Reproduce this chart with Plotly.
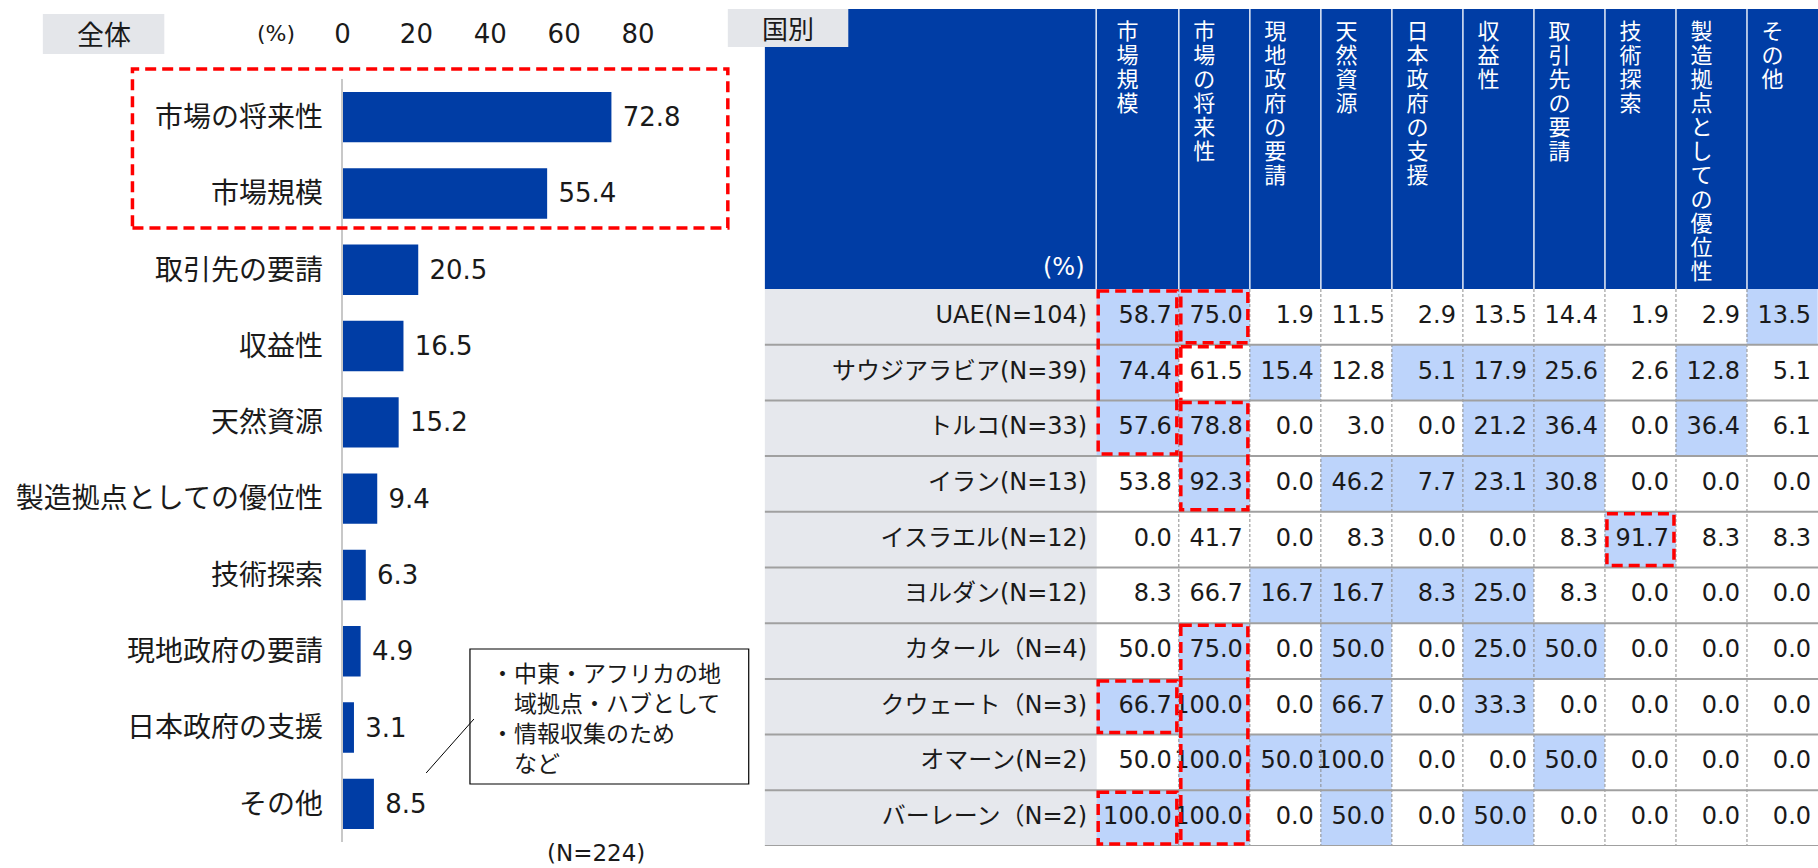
import plotly.graph_objects as go

# ---------------- data ----------------
overall_items = ["市場の将来性", "市場規模", "取引先の要請", "収益性", "天然資源",
                 "製造拠点としての優位性", "技術探索", "現地政府の要請", "日本政府の支援", "その他"]
overall_values = [72.8, 55.4, 20.5, 16.5, 15.2, 9.4, 6.3, 4.9, 3.1, 8.5]
overall_ticks = [0, 20, 40, 60, 80]
overall_n_label = "(N=224)"
note_lines = ["・中東・アフリカの地", "　域拠点・ハブとして", "・情報収集のため", "　など"]

table_items = ["市場規模", "市場の将来性", "現地政府の要請", "天然資源", "日本政府の支援",
               "収益性", "取引先の要請", "技術探索", "製造拠点としての優位性", "その他"]
countries = ["UAE(N=104)", "サウジアラビア(N=39)", "トルコ(N=33)", "イラン(N=13)",
             "イスラエル(N=12)", "ヨルダン(N=12)", "カタール（N=4)", "クウェート（N=3)",
             "オマーン(N=2)", "バーレーン（N=2)"]
uae = [58.7, 75.0, 1.9, 11.5, 2.9, 13.5, 14.4, 1.9, 2.9, 13.5]
saudi = [74.4, 61.5, 15.4, 12.8, 5.1, 17.9, 25.6, 2.6, 12.8, 5.1]
turkey = [57.6, 78.8, 0.0, 3.0, 0.0, 21.2, 36.4, 0.0, 36.4, 6.1]
iran = [53.8, 92.3, 0.0, 46.2, 7.7, 23.1, 30.8, 0.0, 0.0, 0.0]
israel = [0.0, 41.7, 0.0, 8.3, 0.0, 0.0, 8.3, 91.7, 8.3, 8.3]
jordan = [8.3, 66.7, 16.7, 16.7, 8.3, 25.0, 8.3, 0.0, 0.0, 0.0]
qatar = [50.0, 75.0, 0.0, 50.0, 0.0, 25.0, 50.0, 0.0, 0.0, 0.0]
kuwait = [66.7, 100.0, 0.0, 66.7, 0.0, 33.3, 0.0, 0.0, 0.0, 0.0]
oman = [50.0, 100.0, 50.0, 100.0, 0.0, 0.0, 50.0, 0.0, 0.0, 0.0]
bahrain = [100.0, 100.0, 0.0, 50.0, 0.0, 50.0, 0.0, 0.0, 0.0, 0.0]
country_values = [uae, saudi, turkey, iran, israel, jordan, qatar, kuwait, oman, bahrain]

# red dashed highlight boxes: (item, first country row, last country row)
red_boxes = [("市場規模", 0, 2), ("市場の将来性", 0, 0), ("市場の将来性", 2, 3),
             ("市場の将来性", 6, 9), ("市場規模", 7, 7), ("市場規模", 9, 9), ("技術探索", 4, 4)]

# ---------------- style ----------------
W, H = 1818, 868
BLUE = "#003DA5"
LIGHT = "#BDD4FB"
GRAY = "#E6E8ED"
TXT = "#1A1A1A"
JP = "Noto Sans CJK JP"
NUM = "DejaVu Sans, Noto Sans CJK JP"
RED = "#FF0000"


def px(x):
    return x / W


def py(y):
    return 1 - y / H


fig = go.Figure()

# ---------------- left: overall bar chart ----------------
fig.add_trace(go.Bar(
    x=overall_values, y=overall_items, orientation="h",
    marker=dict(color=BLUE, line_width=0), width=0.66,
    texttemplate=" %{x:.1f}", textposition="outside",
    textfont=dict(family=NUM, size=26, color=TXT),
    cliponaxis=False, hoverinfo="skip", xaxis="x", yaxis="y"))

# ---------------- right: table ----------------
TW = 1058  # table width in axis units
LABEL_W = 333
FIRST_W = 83
rest_w = (TW - LABEL_W - FIRST_W) / (len(table_items) - 1)
x_edges = [0, LABEL_W, LABEL_W + FIRST_W]
for i in range(len(table_items) - 1):
    x_edges.append(LABEL_W + FIRST_W + rest_w * (i + 1))
HEAD_H = 280
ROW_H = 55.7
y_edges = [HEAD_H + ROW_H * k for k in range(len(countries) + 1)]
TH = y_edges[-1]

overall_lookup = dict(zip(overall_items, overall_values))
z = []
for vals in country_values:
    z.append([2] + [1 if v > overall_lookup[it] else 0 for v, it in zip(vals, table_items)])

fig.add_trace(go.Heatmap(
    x=x_edges, y=y_edges, z=z,
    colorscale=[[0, "#FFFFFF"], [0.5, LIGHT], [1, GRAY]], zmin=0, zmax=2,
    showscale=False, hoverinfo="skip", xgap=0, ygap=0, xaxis="x2", yaxis="y2"))

row_centers = [(y_edges[k] + y_edges[k + 1]) / 2 for k in range(len(countries))]
col_centers = [(x_edges[j + 1] + x_edges[j + 2]) / 2 for j in range(len(table_items))]

# country labels
fig.add_trace(go.Scatter(
    x=[LABEL_W - 9] * len(countries), y=row_centers, text=countries,
    mode="text", textposition="middle left",
    textfont=dict(family=NUM, size=24, color=TXT),
    cliponaxis=False, hoverinfo="skip", xaxis="x2", yaxis="y2"))

# cell values
vx, vy, vt = [], [], []
for r, vals in enumerate(country_values):
    for j, v in enumerate(vals):
        vx.append(x_edges[j + 2] - 7)
        vy.append(row_centers[r])
        vt.append(f"{v:.1f}")
fig.add_trace(go.Scatter(
    x=vx, y=vy, text=vt, mode="text", textposition="middle left",
    textfont=dict(family=NUM, size=24, color=TXT),
    cliponaxis=False, hoverinfo="skip", xaxis="x2", yaxis="y2"))

# vertical header characters
hx, hy, ht = [], [], []
for j, item in enumerate(table_items):
    for i, ch in enumerate(item):
        hx.append(col_centers[j] - 10)
        hy.append(24 + 24 * i)
        ht.append(ch)
fig.add_trace(go.Scatter(
    x=hx, y=hy, text=ht, mode="text", textposition="middle center",
    textfont=dict(family=JP, size=22, color="white"),
    cliponaxis=False, hoverinfo="skip", xaxis="x2", yaxis="y2"))

shapes = []
# left: gray "全体" box
shapes.append(dict(type="rect", xref="paper", yref="paper", x0=px(35), x1=px(157),
                   y0=py(54), y1=py(14), fillcolor="#E4E6EA", line_width=0, layer="below"))
# left red dashed box
shapes.append(dict(type="rect", xref="paper", yref="paper", x0=px(125), x1=px(723),
                   y0=py(228), y1=py(69), line=dict(color=RED, width=3.5, dash="11px,6px")))
# callout box + leader
shapes.append(dict(type="rect", xref="paper", yref="paper", x0=px(464), x1=px(744),
                   y0=py(784), y1=py(649), line=dict(color="#000000", width=1.2),
                   fillcolor="white"))
shapes.append(dict(type="line", xref="paper", yref="paper", x0=px(420), y0=py(773),
                   x1=px(468), y1=py(719), line=dict(color="#000000", width=1)))

# table header background
shapes.append(dict(type="rect", xref="x2", yref="y2", x0=0, x1=TW, y0=0, y1=HEAD_H,
                   fillcolor=BLUE, line_width=0, layer="below"))
# "国別" box (drawn over the header corner)
shapes.append(dict(type="rect", xref="paper", yref="paper", x0=px(723), x1=px(844),
                   y0=py(47), y1=py(9), fillcolor="#E4E6EA", line_width=0, layer="above"))
# header separators
for xe in x_edges[1:-1]:
    shapes.append(dict(type="line", xref="x2", yref="y2", x0=xe, x1=xe, y0=0, y1=HEAD_H,
                       line=dict(color="#E8EEF8", width=1.5)))
# dashed column separators in body
for xe in x_edges[2:-1]:
    shapes.append(dict(type="line", xref="x2", yref="y2", x0=xe, x1=xe, y0=HEAD_H, y1=TH,
                       line=dict(color="#8C8C8C", width=1, dash="3px,2px")))
# row separators
for ye in y_edges[1:]:
    shapes.append(dict(type="line", xref="x2", yref="y2", x0=0, x1=TW, y0=ye, y1=ye,
                       line=dict(color="#A0A0A0", width=2)))
# red dashed boxes in table
for item, r0, r1 in red_boxes:
    j = table_items.index(item)
    shapes.append(dict(type="rect", xref="x2", yref="y2",
                       x0=x_edges[j + 1] + 2, x1=x_edges[j + 2] - 2,
                       y0=y_edges[r0] + 2, y1=y_edges[r1 + 1] - 2,
                       line=dict(color=RED, width=3.5, dash="11px,6px")))
# partial outline on Saudi / 市場の将来性
j = table_items.index("市場の将来性")
shapes.append(dict(type="line", xref="x2", yref="y2", x0=x_edges[j + 1] + 2, x1=x_edges[j + 2] - 2,
                   y0=y_edges[1] + 2, y1=y_edges[1] + 2,
                   line=dict(color=RED, width=3.5, dash="11px,6px")))
shapes.append(dict(type="line", xref="x2", yref="y2", x0=x_edges[j + 1] + 2, x1=x_edges[j + 1] + 2,
                   y0=y_edges[1] + 2, y1=y_edges[2],
                   line=dict(color=RED, width=3.5, dash="11px,6px")))

annotations = [
    dict(text="全体", xref="paper", yref="paper", x=px(96), y=py(33), showarrow=False,
         font=dict(family=JP, size=27, color=TXT), xanchor="center", yanchor="middle"),
    dict(text="(%)", xref="paper", yref="paper", x=px(269), y=py(33), showarrow=False,
         font=dict(family=NUM, size=22, color=TXT), xanchor="center", yanchor="middle"),
    dict(text="<br>".join(note_lines), xref="paper", yref="paper", x=px(483), y=py(717),
         showarrow=False, align="left", xanchor="left", yanchor="middle",
         font=dict(family=JP, size=23, color=TXT)),
    dict(text=overall_n_label, xref="paper", yref="paper", x=px(591), y=py(853),
         showarrow=False, font=dict(family=NUM, size=23, color=TXT),
         xanchor="center", yanchor="middle"),
    dict(text="国別", xref="paper", yref="paper", x=px(783), y=py(28), showarrow=False,
         font=dict(family=JP, size=26, color=TXT), xanchor="center", yanchor="middle"),
    dict(text="(%)", xref="x2", yref="y2", x=LABEL_W - 9, y=258, showarrow=False,
         font=dict(family=NUM, size=24, color="white"), xanchor="right", yanchor="middle"),
]

fig.update_layout(
    width=W, height=H, autosize=False,
    margin=dict(l=0, r=0, t=0, b=0, pad=0),
    paper_bgcolor="white", plot_bgcolor="rgba(0,0,0,0)",
    showlegend=False,
    xaxis=dict(domain=[px(336), px(707)], range=[0, 100], side="top",
               tickvals=overall_ticks, showgrid=False, zeroline=False, showline=False,
               ticks="", tickfont=dict(family=NUM, size=26, color=TXT),
               ticklabelstandoff=30, anchor="y", fixedrange=True),
    yaxis=dict(domain=[py(842), py(79)], categoryorder="array", categoryarray=overall_items,
               range=[len(overall_items) - 0.5, -0.5], showline=True, linecolor="#C8C8C8",
               linewidth=2, ticks="", showgrid=False, zeroline=False,
               tickfont=dict(family=JP, size=28, color=TXT), ticklabelstandoff=12,
               anchor="x", fixedrange=True),
    xaxis2=dict(domain=[px(760), 1], range=[0, TW], visible=False, anchor="y2",
                fixedrange=True),
    yaxis2=dict(domain=[py(846), py(9)], range=[TH, 0], visible=False, anchor="x2",
                fixedrange=True),
    shapes=shapes, annotations=annotations,
)

fig.write_html("out.html", config={"displayModeBar": False},
               post_script="document.body.style.margin='0';document.body.style.overflow='hidden';")
